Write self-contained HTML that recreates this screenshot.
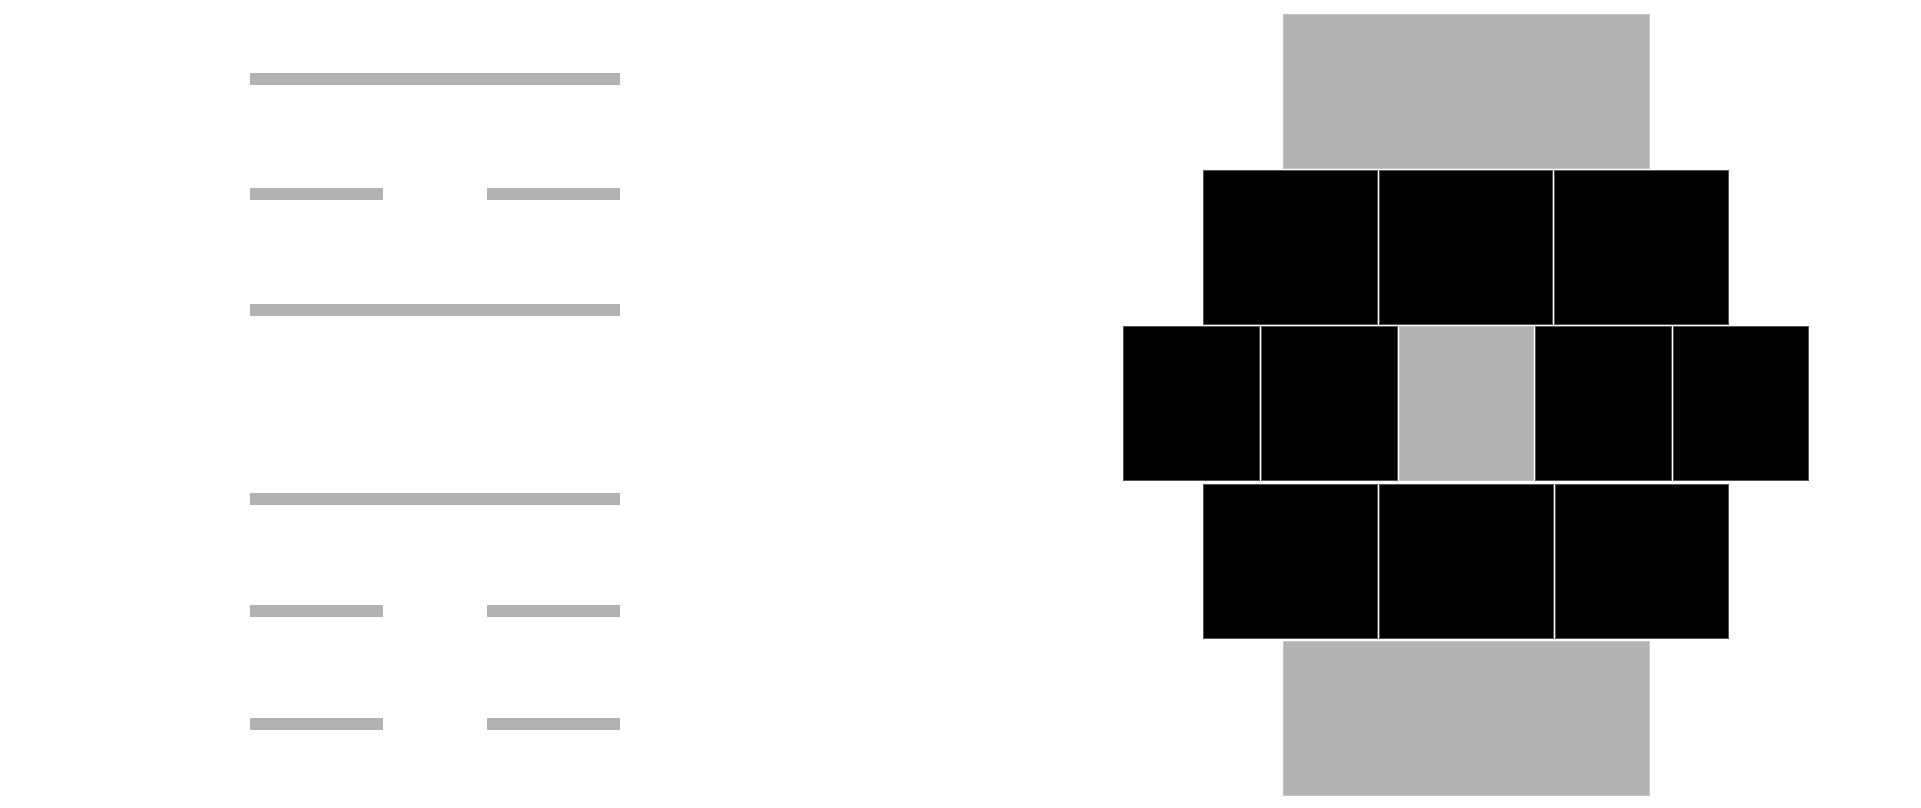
<!DOCTYPE html>
<html>
<head>
<meta charset="utf-8">
<style>
  html, body { margin:0; padding:0; background:#ffffff; }
  body { width:1921px; height:808px; position:relative; overflow:hidden; font-family:"Liberation Sans", sans-serif; }
  .b { position:absolute; background:#b2b2b2; height:12px; }
  .g { position:absolute; background:#b3b3b3; box-sizing:border-box; border:1px solid #c4c4c4; }
  .k { position:absolute; background:#000000; box-sizing:border-box; border:1px solid #555; }
</style>
</head>
<body>
  <!-- left bars (trigram-like) -->
  <div class="b" style="left:250px; top:73px; width:370px;"></div>

  <div class="b" style="left:250px; top:188px; width:133px;"></div>
  <div class="b" style="left:487px; top:188px; width:133px;"></div>

  <div class="b" style="left:250px; top:304px; width:370px;"></div>

  <div class="b" style="left:250px; top:493px; width:370px;"></div>

  <div class="b" style="left:250px; top:605px; width:133px;"></div>
  <div class="b" style="left:487px; top:605px; width:133px;"></div>

  <div class="b" style="left:250px; top:718px; width:133px;"></div>
  <div class="b" style="left:487px; top:718px; width:133px;"></div>

  <!-- right grid -->
  <div class="g" style="left:1283px; top:14px; width:367px; height:155px;"></div>

  <div class="k" style="left:1203px; top:170px; width:175px; height:155px;"></div>
  <div class="k" style="left:1379px; top:170px; width:174px; height:155px;"></div>
  <div class="k" style="left:1554px; top:170px; width:175px; height:155px;"></div>

  <div class="k" style="left:1123px; top:326px; width:137px; height:155px;"></div>
  <div class="k" style="left:1261px; top:326px; width:137px; height:155px;"></div>
  <div class="g" style="left:1399px; top:326px; width:135px; height:155px;"></div>
  <div class="k" style="left:1535px; top:326px; width:137px; height:155px;"></div>
  <div class="k" style="left:1673px; top:326px; width:136px; height:155px;"></div>

  <div class="k" style="left:1203px; top:484px; width:175px; height:155px;"></div>
  <div class="k" style="left:1379px; top:484px; width:175px; height:155px;"></div>
  <div class="k" style="left:1555px; top:484px; width:174px; height:155px;"></div>

  <div class="g" style="left:1283px; top:641px; width:367px; height:155px;"></div>
</body>
</html>
